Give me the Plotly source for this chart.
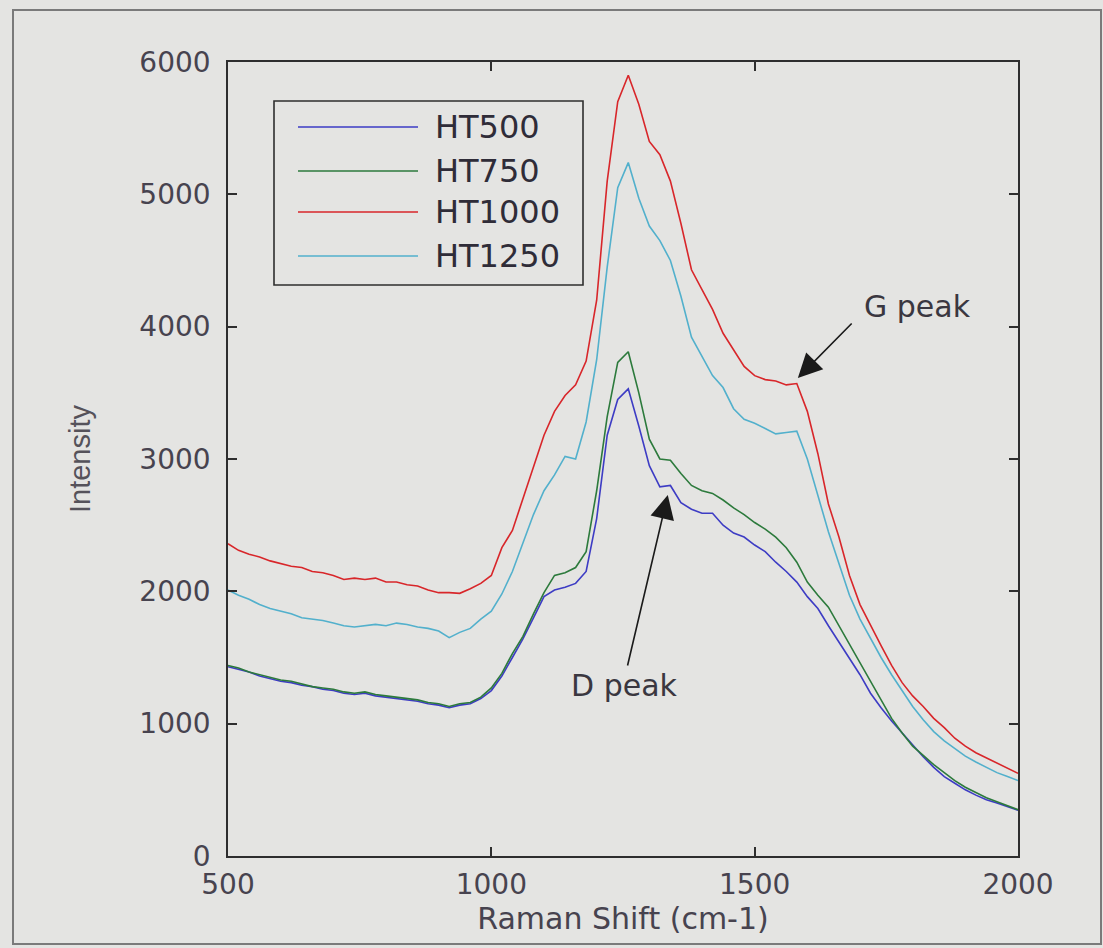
import plotly.graph_objects as go

raman_shift = list(range(500, 2001, 20))

ht500 = [1430, 1410, 1390, 1360, 1340, 1320, 1310, 1290, 1280, 1260,
         1250, 1230, 1220, 1230, 1210, 1200, 1190, 1180, 1170, 1150,
         1140, 1120, 1140, 1150, 1190, 1250, 1360, 1500, 1640, 1800,
         1960, 2010, 2030, 2060, 2150, 2550, 3180, 3450, 3530, 3250,
         2950, 2790, 2800, 2670, 2620, 2590, 2590, 2500, 2440, 2410,
         2350, 2300, 2220, 2150, 2070, 1960, 1870, 1740, 1620, 1500,
         1370, 1230, 1120, 1020, 930, 840, 750, 670, 600, 550,
         500, 460, 425, 400, 370, 345]

ht750 = [1440, 1420, 1390, 1370, 1350, 1330, 1320, 1300, 1280, 1270,
         1260, 1240, 1230, 1240, 1220, 1210, 1200, 1190, 1180, 1160,
         1150, 1130, 1150, 1160, 1200, 1270, 1380, 1530, 1660, 1830,
         1990, 2120, 2140, 2180, 2300, 2760, 3320, 3730, 3810, 3500,
         3150, 3000, 2990, 2890, 2800, 2760, 2740, 2690, 2630, 2580,
         2520, 2470, 2410, 2330, 2220, 2070, 1970, 1880, 1740, 1600,
         1460, 1310, 1170, 1040, 930, 830, 760, 690, 630, 570,
         520, 480, 440, 410, 380, 350]

ht1000 = [2360, 2310, 2280, 2260, 2230, 2210, 2190, 2180, 2150, 2140,
          2120, 2090, 2100, 2090, 2100, 2070, 2070, 2050, 2040, 2010,
          1990, 1990, 1985, 2020, 2060, 2120, 2330, 2460, 2700, 2950,
          3180, 3360, 3480, 3560, 3740, 4200, 5100, 5700, 5900, 5680,
          5400, 5300, 5100, 4780, 4430, 4280, 4130, 3950, 3820, 3700,
          3630, 3600, 3590, 3560, 3570, 3360, 3040, 2660, 2410, 2120,
          1900, 1740, 1590, 1440, 1310, 1210, 1130, 1040, 970, 890,
          830, 780, 740, 700, 660, 625]

ht1250 = [2010, 1970, 1940, 1900, 1870, 1850, 1830, 1800, 1790, 1780,
          1760, 1740, 1730, 1740, 1750, 1740, 1760, 1750, 1730, 1720,
          1700, 1650, 1690, 1720, 1790, 1850, 1980, 2150, 2360, 2580,
          2760, 2880, 3020, 3000, 3280, 3750, 4450, 5050, 5240, 4970,
          4760, 4650, 4500, 4230, 3920, 3770, 3630, 3540, 3380, 3300,
          3270, 3230, 3190, 3200, 3210, 3000, 2720, 2450, 2210, 1970,
          1790, 1640, 1500, 1370, 1250, 1130, 1030, 940, 870, 810,
          755, 710, 670, 630, 600, 570]

series_names = ["HT500", "HT750", "HT1000", "HT1250"]
series_values = [ht500, ht750, ht1000, ht1250]
series_colors = ["#3d3cc4", "#2c7a3c", "#d8262a", "#52b0cc"]

x_ticks = [500, 1000, 1500, 2000]
y_ticks = [0, 1000, 2000, 3000, 4000, 5000, 6000]

peak_labels = ["G peak", "D peak"]
peak_text_pos = [(1810, 4150), (1252, 1285)]
peak_arrow_tip = [(1582, 3612), (1335, 2728)]
peak_arrow_tail = [(1687, 4035), (1258, 1428)]

BG = "#e4e4e2"
TXT = "#47434f"

fig = go.Figure()
for name, vals, col in zip(series_names, series_values, series_colors):
    fig.add_trace(go.Scatter(x=raman_shift, y=vals, mode="lines", name=name,
                             line=dict(color=col, width=1.6), showlegend=False))

axis_common = dict(showline=True, linecolor="#2e2e2e", linewidth=1.6, mirror="ticks",
                   ticks="inside", ticklen=9, tickwidth=1.6, tickcolor="#2e2e2e",
                   showgrid=False, zeroline=False,
                   tickfont=dict(family="DejaVu Sans", size=28, color=TXT))

fig.update_xaxes(range=[500, 2000], tickvals=x_ticks, **axis_common,
                 ticklabelstandoff=3,
                 title=dict(text="Raman Shift (cm-1)", standoff=5,
                            font=dict(family="DejaVu Sans", size=30, color=TXT)))
fig.update_yaxes(range=[0, 6000], tickvals=y_ticks, **axis_common,
                 ticklabelstandoff=10,
                 title=dict(text="Intensity", standoff=40,
                            font=dict(family="Liberation Sans", size=29, color="#55525a")))

# custom legend and frame (layout decoration, in paper units)
L, R, T, B = 228, 1018, 62, 856
W, H = 1103, 948
def px(xp):
    return (xp - L) / (R - L)
def py(yp):
    return (B - yp) / (B - T)

shapes = [
    dict(type="rect", xref="paper", yref="paper", x0=px(13), x1=px(1101), y0=py(944), y1=py(10),
         line=dict(color="#7a7a7a", width=2), fillcolor="rgba(0,0,0,0)", layer="below"),
    dict(type="rect", xref="paper", yref="paper", x0=px(274), x1=px(583), y0=py(285), y1=py(101),
         line=dict(color="#2e2e2e", width=1.6), fillcolor=BG),
]
annotations = []
rows = [127, 171, 212, 256]
for name, col, ry in zip(series_names, series_colors, rows):
    shapes.append(dict(type="line", xref="paper", yref="paper", x0=px(298), x1=px(418),
                       y0=py(ry), y1=py(ry), line=dict(color=col, width=1.6)))
    annotations.append(dict(xref="paper", yref="paper", x=px(433), y=py(ry), text=name,
                            showarrow=False, xanchor="left", yanchor="middle",
                            font=dict(family="DejaVu Sans", size=32, color="#2f2c38")))

for lab, (tx, ty), (hx, hy), (ax, ay) in zip(peak_labels, peak_text_pos, peak_arrow_tip, peak_arrow_tail):
    annotations.append(dict(x=tx, y=ty, xref="x", yref="y", text=lab, showarrow=False,
                            font=dict(family="DejaVu Sans", size=30, color="#3a3740")))
    annotations.append(dict(x=hx, y=hy, xref="x", yref="y", ax=ax, ay=ay, axref="x", ayref="y",
                            text="", showarrow=True, arrowhead=2, arrowsize=3,
                            arrowwidth=1.6, arrowcolor="#1a1a1a"))

fig.update_layout(width=W, height=H, paper_bgcolor=BG, plot_bgcolor=BG,
                  margin=dict(l=L, r=W - R, t=T, b=H - B),
                  shapes=shapes, annotations=annotations, showlegend=False)

fig.write_html("out.html", config={"displayModeBar": False},
               post_script="document.body.style.margin='0';document.body.style.background='#e4e4e2';document.body.style.overflow='hidden';")
